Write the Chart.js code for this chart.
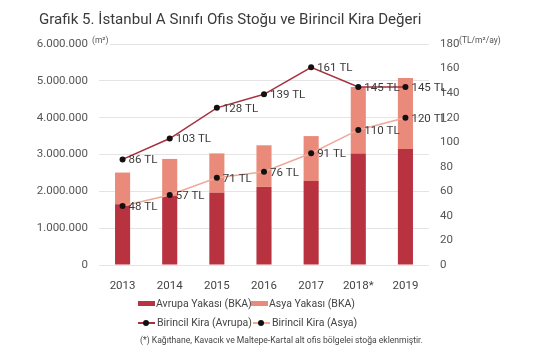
<!DOCTYPE html>
<html>
<head>
<meta charset="utf-8">
<script src="https://cdn.jsdelivr.net/npm/chart.js@4/dist/chart.umd.min.js"></script>
<style>
  html, body { margin: 0; padding: 0; background: #fff; }
  #wrap { position: relative; width: 555px; height: 355px; font-family: Roboto, sans-serif; color: #444; }
  #c { position: absolute; left: 0; top: 0; }
  .t { position: absolute; white-space: nowrap; }
  #title { left: 39px; top: 10px; font-size: 15.1px; color: #3a3a3a; }
  .unit { font-size: 8.5px; color: #555; background: #fff; padding-right: 2px; }
  .leg { font-size: 10.5px; color: #444; display: flex; align-items: center; }
  .box { display: inline-block; width: 17px; height: 5px; margin-right: 1px; }
  .lm { display: inline-block; position: relative; width: 17px; height: 9px; margin-right: 2px; }
  .lm i { position: absolute; left: 0; right: 0; top: 4px; height: 1.5px; }
  .lm b { position: absolute; left: 5px; top: 1.5px; width: 6px; height: 6px; border-radius: 50%; background: #111; }
  #foot { left: 140px; top: 335px; font-size: 8.6px; color: #444; }
</style>
</head>
<body>
<div id="wrap">
  <canvas id="c" width="555" height="355"></canvas>
  <div id="title" class="t">Grafik 5. İstanbul A Sınıfı Ofis Stoğu ve Birincil Kira Değeri</div>
  <div class="t unit" style="left:92px; top:35px;">(m²)</div>
  <div class="t unit" style="left:459px; top:35px;">(TL/m²/ay)</div>
  <div class="t leg" style="left:138px; top:297px;"><span class="box" style="background:#b8323f"></span>Avrupa Yakası (BKA)</div>
  <div class="t leg" style="left:251px; top:297px;"><span class="box" style="background:#ea8a7b"></span>Asya Yakası (BKA)</div>
  <div class="t leg" style="left:138px; top:316px;"><span class="lm"><i style="background:#a8303c"></i><b></b></span>Birincil Kira (Avrupa)</div>
  <div class="t leg" style="left:253px; top:316px;"><span class="lm"><i style="background:#f0a898"></i><b></b></span>Birincil Kira (Asya)</div>
  <div id="foot" class="t">(*) Kağıthane, Kavacık ve Maltepe-Kartal alt ofis bölgelei stoğa eklenmiştir.</div>
</div>
<script>
const categories = ['2013', '2014', '2015', '2016', '2017', '2018*', '2019'];
const avrupaStock = [1650000, 1880000, 1960000, 2120000, 2280000, 3030000, 3150000];
const asyaStock   = [860000, 1000000, 1070000, 1130000, 1220000, 1800000, 1930000];
const avrupaRent  = [86, 103, 128, 139, 161, 145, 145];
const asyaRent    = [48, 57, 71, 76, 91, 110, 120];
const leftTickMax = 6000000, leftTickStep = 1000000;
const rightTickMax = 180, rightTickStep = 20;

function fmtDots(v) {
  return String(Math.round(v)).replace(/\B(?=(\d{3})+(?!\d))/g, '.');
}

const pointLabels = {
  id: 'pointLabels',
  afterDatasetsDraw(chart) {
    const ctx = chart.ctx;
    ctx.save();
    ctx.font = '11.5px Roboto, sans-serif';
    ctx.fillStyle = '#3a3a3a';
    ctx.textAlign = 'left';
    ctx.textBaseline = 'middle';
    chart.data.datasets.forEach((ds, i) => {
      if (ds.type !== 'line') return;
      const meta = chart.getDatasetMeta(i);
      meta.data.forEach((pt, j) => {
        ctx.fillText(ds.data[j] + ' TL', pt.x + 6, pt.y + 1);
      });
    });
    ctx.restore();
  }
};

new Chart(document.getElementById('c'), {
  data: {
    labels: categories,
    datasets: [
      { type: 'line', label: 'Birincil Kira (Avrupa)', data: avrupaRent, yAxisID: 'y1',
        borderColor: '#a8303c', borderWidth: 1.5, pointBackgroundColor: '#111', pointBorderColor: '#111',
        pointRadius: 3, pointBorderWidth: 0, tension: 0, order: 0 },
      { type: 'line', label: 'Birincil Kira (Asya)', data: asyaRent, yAxisID: 'y1',
        borderColor: '#f0a898', borderWidth: 1.5, pointBackgroundColor: '#111', pointBorderColor: '#111',
        pointRadius: 3, pointBorderWidth: 0, tension: 0, order: 0 },
      { type: 'bar', label: 'Avrupa Yakası (BKA)', data: avrupaStock, yAxisID: 'y', stack: 's',
        backgroundColor: '#b8323f', barPercentage: 0.64, categoryPercentage: 0.5, order: 1 },
      { type: 'bar', label: 'Asya Yakası (BKA)', data: asyaStock, yAxisID: 'y', stack: 's',
        backgroundColor: '#ea8a7b', barPercentage: 0.64, categoryPercentage: 0.5, order: 1 }
    ]
  },
  options: {
    responsive: false,
    animation: false,
    layout: { padding: { top: 44, bottom: 0, left: 0, right: 0 } },
    plugins: { legend: { display: false }, tooltip: { enabled: false } },
    scales: {
      x: {
        stacked: true,
        grid: { display: false },
        border: { display: false },
        ticks: { color: '#444', font: { family: 'Roboto', size: 11.5 }, padding: 6 },
        afterFit(s) { s.height = 90; }
      },
      y: {
        position: 'left', stacked: true, min: 0, max: leftTickMax,
        grid: { color: '#e4e4e4', lineWidth: 1, drawTicks: false },
        border: { display: false },
        ticks: { stepSize: leftTickStep, color: '#555', font: { family: 'Roboto', size: 11.5 }, padding: 11,
          callback: v => fmtDots(v) },
        afterFit(s) { s.width = 99; }
      },
      y1: {
        position: 'right', min: 0, max: rightTickMax,
        grid: { display: false, drawTicks: false },
        border: { display: false },
        ticks: { stepSize: rightTickStep, color: '#555', font: { family: 'Roboto', size: 11.5 }, padding: 11 },
        afterFit(s) { s.width = 126; }
      }
    }
  },
  plugins: [pointLabels]
});
</script>
</body>
</html>
